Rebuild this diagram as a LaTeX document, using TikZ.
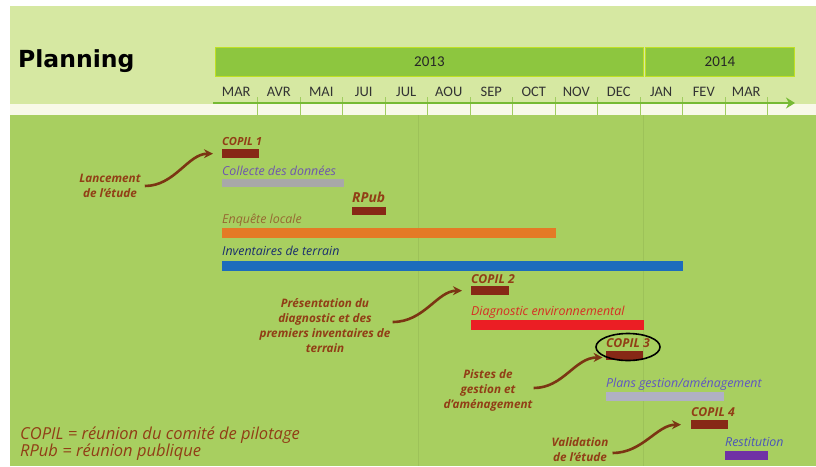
\documentclass[tikz,border=0pt]{standalone}
\usepackage{fontspec}
\setmainfont{Open Sans}
\newfontfamily\calfont{Carlito}
\newfontfamily\headfont{DejaVu Sans}
\usepackage{tikz}
\usetikzlibrary{arrows.meta,positioning,shapes.geometric}
\definecolor{paleleaf}{RGB}{214,232,162}
\definecolor{leaf}{RGB}{168,207,96}
\definecolor{stripcolor}{RGB}{248,249,232}
\definecolor{yearcolor}{RGB}{141,198,63}
\definecolor{axiscolor}{RGB}{118,186,52}
\definecolor{tickcolor}{RGB}{160,205,95}
\definecolor{copilcolor}{RGB}{135,40,22}
\definecolor{notecolor}{RGB}{145,62,22}
\definecolor{collectecolor}{RGB}{110,85,175}
\definecolor{collectebar}{RGB}{168,168,168}
\definecolor{enquetecolor}{RGB}{150,105,50}
\definecolor{enquetebar}{RGB}{228,122,38}
\definecolor{inventcolor}{RGB}{25,45,110}
\definecolor{inventbar}{RGB}{28,108,188}
\definecolor{diagcolor}{RGB}{215,45,35}
\definecolor{diagbar}{RGB}{235,30,36}
\definecolor{planscolor}{RGB}{95,85,195}
\definecolor{plansbar}{RGB}{176,176,196}
\definecolor{restitcolor}{RGB}{75,85,185}
\definecolor{restitbar}{RGB}{112,50,165}

\begin{document}
\begin{tikzpicture}[x=1pt,y=-1pt,
    year/.style={fill=yearcolor,draw=yearcolor!55!yellow,line width=0.8pt,
                 anchor=north west,inner sep=0pt,minimum height=29pt,
                 font=\calfont\fontsize{15}{15}\selectfont,text=black!85},
    month/.style={anchor=base,inner sep=0pt,text=black!80,
                  font=\calfont\fontsize{14.5}{15}\selectfont},
    bar/.style={anchor=north west,inner sep=0pt,minimum height=9pt,fill=#1},
    tag/.style={anchor=base west,inner sep=0pt,text=#1,
                font=\itshape\fontsize{12.4}{13}\selectfont},
    copiltag/.style={anchor=base west,inner sep=0pt,text=notecolor,
                font=\bfseries\itshape\fontsize{12.3}{13}\selectfont},
    note/.style={align=center,inner sep=0pt,text=notecolor,
                 font=\bfseries\itshape\fontsize{11.7}{15}\selectfont},
    hook/.style={-{Stealth[length=9pt,width=9pt]},line width=2.6pt,
                 draw=notecolor!85!black}]

  \useasboundingbox (0,0) rectangle (816,466);

  % Background: pale header, white strip, green field
  \fill[white] (0,0) rectangle (816,466);
  \fill[paleleaf] (10,6) rectangle (816,104);
  \fill[stripcolor] (10,104) rectangle (816,115);
  \fill[leaf] (10,115) rectangle (816,466);
  \draw[leaf!88!black,line width=0.6pt,opacity=0.5] (418,115) -- (418,466);
  \draw[leaf!88!black,line width=0.6pt,opacity=0.5] (643,115) -- (643,466);

  % Title
  \node[anchor=base west,inner sep=0pt,font=\headfont\bfseries\fontsize{23.5}{24}\selectfont]
    (title) at (18,67) {Planning};

  % Years
  \node[year,minimum width=428pt] (y2013) at (215,47) {2013};
  \node[year,minimum width=149pt] (y2014) at (645,47) {2014};

  % Months and time axis
  \foreach \m [count=\i] in {MAR,AVR,MAI,JUI,JUL,AOU,SEP,OCT,NOV,DEC,JAN,FEV,MAR}
    \node[month] (m\i) at ({215+42.5*(\i-0.5)},96) {\m};
  \foreach \i in {1,...,13}
    \draw[tickcolor,line width=0.6pt] ({215+42.5*\i},97) -- ({215+42.5*\i},115);
  \coordinate (axisstart) at (213,103);
  \coordinate (axisend) at (795,103);
  \draw[axiscolor,line width=2pt,-{Stealth[length=9pt,width=11pt]}] (axisstart) -- (axisend);

  % Tasks
  \node[bar=copilcolor,minimum width=37pt] (copil1) at (222,149) {};
  \node[above=4pt of copil1.north west,copiltag,font=\bfseries\itshape\fontsize{11.2}{13}\selectfont]
    (copil1lbl) {COPIL 1};

  \node[bar=collectebar,minimum width=122pt,minimum height=8pt] (collecte) at (222,179) {};
  \node[above=4pt of collecte.north west,tag=collectecolor] (collectelbl) {Collecte des données};

  \node[bar=copilcolor,minimum width=34pt,minimum height=8pt] (rpub) at (352,207) {};
  \node[above=5pt of rpub.north west,copiltag,font=\bfseries\itshape\fontsize{13.8}{14}\selectfont]
    (rpublbl) {RPub};

  \node[bar=enquetebar,minimum width=334pt,minimum height=10pt] (enquete) at (222,228) {};
  \node[above=5pt of enquete.north west,tag=enquetecolor] (enquetelbl) {Enquête locale};

  \node[bar=inventbar,minimum width=461pt,minimum height=10pt] (invent) at (222,261) {};
  \node[above=6pt of invent.north west,tag=inventcolor] (inventlbl) {Inventaires de terrain};

  \node[bar=copilcolor,minimum width=38pt] (copil2) at (471,286) {};
  \node[above=3pt of copil2.north west,copiltag] (copil2lbl) {COPIL 2};

  \node[bar=diagbar,minimum width=173pt,minimum height=10pt] (diag) at (471,320) {};
  \node[above=5pt of diag.north west,tag=diagcolor] (diaglbl) {Diagnostic environnemental};

  \node[bar=copilcolor,minimum width=37pt] (copil3) at (606,351) {};
  \node[above=4pt of copil3.north west,copiltag] (copil3lbl) {COPIL 3};
  \node[draw=black,line width=1.6pt,ellipse,inner sep=0pt,
        minimum width=64pt,minimum height=27pt] (ring) at (628,347) {};

  \node[bar=plansbar,minimum width=118pt] (plans) at (606,392) {};
  \node[above=5pt of plans.north west,tag=planscolor] (planslbl) {Plans gestion/aménagement};

  \node[bar=copilcolor,minimum width=37pt] (copil4) at (691,420) {};
  \node[above=4pt of copil4.north west,copiltag] (copil4lbl) {COPIL 4};

  \node[bar=restitbar,minimum width=43pt] (restit) at (725,451) {};
  \node[above=5pt of restit.north west,tag=restitcolor] (restitlbl) {Restitution};

  % Milestone notes
  \node[note] (lancement) at (110,186) {Lancement\\de l'étude};
  \node[note] (presentation) at (325,326)
    {Présentation du\\diagnostic et des\\premiers inventaires de\\terrain};
  \node[note] (pistes) at (488,390) {Pistes de\\gestion et\\d'aménagement};
  \node[note] (validation) at (580,450) {Validation\\de l'étude};

  \draw[hook,shorten <=4pt,shorten >=9pt] (lancement.east) to[out=0,in=180] (copil1.west);
  \draw[hook,shorten <=2pt,shorten >=9pt] ([yshift=4pt]presentation.east) to[out=0,in=180] (copil2.west);
  \draw[hook,shorten <=1pt,shorten >=3pt] ([yshift=2pt]pistes.east) to[out=0,in=180] (ring.205);
  \draw[hook,shorten <=4pt,shorten >=10pt] ([yshift=-3pt]validation.east) to[out=0,in=180] (copil4.west);

  % Legend
  \node[anchor=base west,inner sep=0pt,text=notecolor,font=\itshape\fontsize{16.5}{18}\selectfont]
    (legcopil) at (20,439) {COPIL = réunion du comité de pilotage};
  \node[anchor=base west,inner sep=0pt,text=notecolor,font=\itshape\fontsize{16.5}{18}\selectfont]
    (legrpub) at (20,456) {RPub = réunion publique};

\end{tikzpicture}
\end{document}
